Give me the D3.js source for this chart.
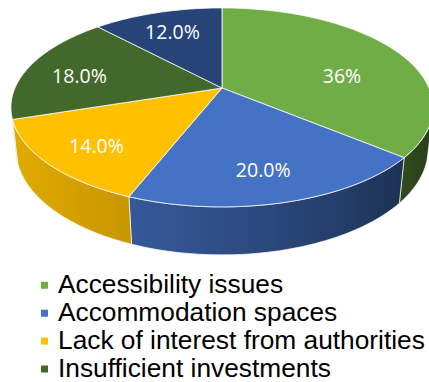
<!DOCTYPE html>
<html><head><meta charset="utf-8">
<script src="https://cdn.jsdelivr.net/npm/d3@7"></script>
<style>html,body{margin:0;padding:0;background:#fff;}svg{display:block;}</style>
</head><body><div id="chart"></div>
<script>
// ---- data ----
const categories = ["Accessibility issues", "Accommodation spaces", "Lack of interest from authorities", "Insufficient investments", "Other"];
const values = [36, 20, 14, 18, 12];
const labels = ["36%", "20.0%", "14.0%", "18.0%", "12.0%"];
const legendCategories = ["Accessibility issues", "Accommodation spaces", "Lack of interest from authorities", "Insufficient investments"];
const colors = ["#70AD47", "#4472C4", "#FFC000", "#43682B", "#264478"];

// ---- setup ----
const W = 429, H = 382;
const svg = d3.select("#chart").append("svg").attr("width", W).attr("height", H);
svg.append("rect").attr("width", W).attr("height", H).attr("fill", "#fff");
const defs = svg.append("defs");

// 3D perspective projection
const cx = 222, cy = 88;
const F = 940.9, R = 0.22, D = 1, sPhi = 0.4623, cPhi = Math.sqrt(1 - sPhi * sPhi), thick = 0.051;
function proj(theta, y, rf) {
  rf = rf === undefined ? 1 : rf;
  const x = R * rf * Math.sin(theta), z = R * rf * Math.cos(theta);
  const v = z * sPhi + y * cPhi;
  const w = D + z * cPhi - y * sPhi;
  return [cx + F * x / w, cy - F * v / w];
}
function arcPts(a0, a1, y) {
  const n = Math.max(2, Math.ceil(Math.abs(a1 - a0) / (Math.PI / 180)));
  return d3.range(n + 1).map(i => proj(a0 + (a1 - a0) * i / n, y));
}
function shade(theta) {
  const L = 250 * Math.PI / 180;
  return 0.58 + 0.30 * Math.cos(theta - L);
}

const pie = d3.pie().sort(null).value(d => d).startAngle(0).endAngle(2 * Math.PI);
const arcs = pie(values);
const line = d3.line();

// visible side range
const tV = Math.acos(-R / (D * cPhi));
const vis0 = tV, vis1 = 2 * Math.PI - tV;

const gSide = svg.append("g");
arcs.forEach((a, i) => {
  const b0 = Math.max(a.startAngle, vis0), b1 = Math.min(a.endAngle, vis1);
  if (b1 <= b0) return;
  const top = arcPts(b0, b1, 0);
  const bot = arcPts(b1, b0, -thick);
  const x1 = proj(b0, 0)[0], x2 = proj(b1, 0)[0];
  const gid = "sg" + i;
  const grad = defs.append("linearGradient").attr("id", gid)
    .attr("gradientUnits", "userSpaceOnUse")
    .attr("x1", x1).attr("x2", x2).attr("y1", 0).attr("y2", 0);
  const base = d3.rgb(colors[i]);
  const ns = 12;
  for (let k = 0; k <= ns; k++) {
    const t = b0 + (b1 - b0) * k / ns;
    const xx = proj(t, 0)[0];
    const f = shade(t);
    grad.append("stop").attr("offset", (xx - x1) / (x2 - x1))
      .attr("stop-color", d3.rgb(base.r * f, base.g * f, base.b * f).formatHex());
  }
  gSide.append("path").attr("d", line(top.concat(bot)) + "Z")
    .attr("fill", `url(#${gid})`)
    .attr("stroke", "#fff").attr("stroke-width", 0.8).attr("stroke-opacity", 0.85)
    .attr("stroke-linejoin", "round");
});

const gTop = svg.append("g");
const center = proj(0, 0, 0);
arcs.forEach((a, i) => {
  const pts = [center].concat(arcPts(a.startAngle, a.endAngle, 0));
  gTop.append("path").attr("d", line(pts) + "Z")
    .attr("fill", colors[i])
    .attr("stroke", "#fff").attr("stroke-width", 0.9).attr("stroke-opacity", 0.85)
    .attr("stroke-linejoin", "round");
});

// labels
const gLab = svg.append("g");
arcs.forEach((a, i) => {
  const pts = [center].concat(arcPts(a.startAngle, a.endAngle, 0));
  const c = d3.polygonCentroid(pts);
  const k = 1.15;
  const p = [center[0] + (c[0] - center[0]) * k, center[1] + (c[1] - center[1]) * k];
  gLab.append("text").attr("x", p[0]).attr("y", p[1])
    .attr("text-anchor", "middle").attr("dominant-baseline", "central")
    .attr("font-family", "'Open Sans', sans-serif").attr("font-size", 19.5)
    .attr("fill", "#fff").text(labels[i]);
});

// legend
const gLeg = svg.append("g");
const legY = d3.scalePoint().domain(legendCategories).range([293.3, 377]);
legendCategories.forEach((cat, i) => {
  const y = legY(cat);
  gLeg.append("rect").attr("x", 41).attr("y", y - 11.5).attr("width", 7).attr("height", 7)
    .attr("fill", colors[categories.indexOf(cat)]);
  gLeg.append("text").attr("x", 58).attr("y", y)
    .attr("font-family", "'Liberation Sans', Arial, sans-serif").attr("font-size", 26.3)
    .attr("fill", "#000").text(cat);
});
</script>
</body></html>
